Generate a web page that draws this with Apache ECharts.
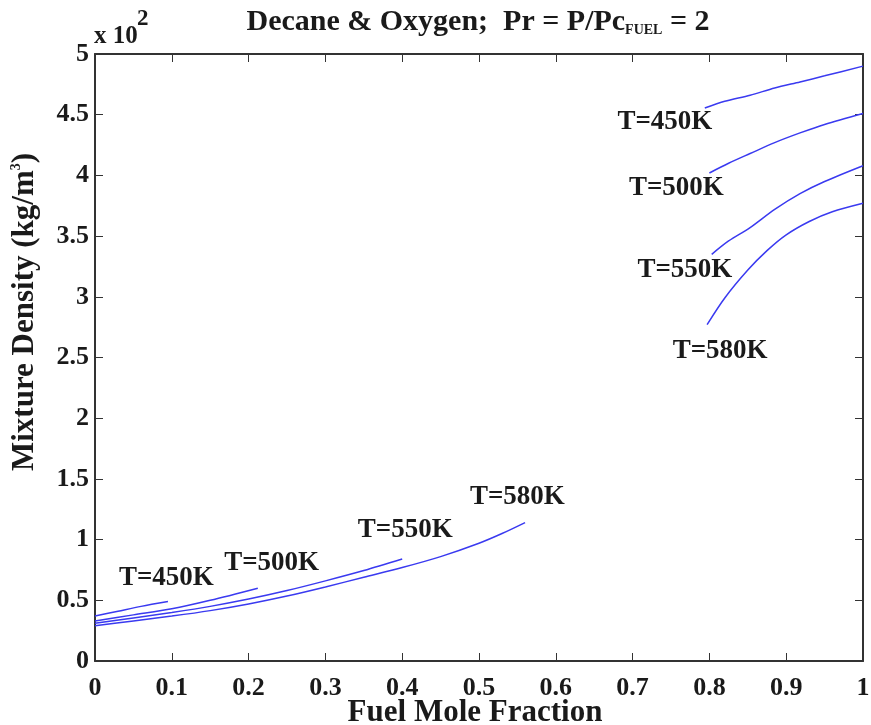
<!DOCTYPE html>
<html><head><meta charset="utf-8">
<script src="https://cdn.jsdelivr.net/npm/echarts@6/dist/echarts.min.js"></script>
<style>html,body{margin:0;padding:0;background:#fff}#c{width:871px;height:725px}</style>
</head><body><div id="c"></div>
<script>
// Fuel mole fraction vs mixture density (x10^2 kg/m^3)
var lowX450 = [0, 0.03, 0.06, 0.095];
var lowY450 = [0.37, 0.41, 0.45, 0.49];
var lowX500 = [0, 0.05, 0.1, 0.15, 0.212];
var lowY500 = [0.33, 0.38, 0.43, 0.50, 0.60];
var lowX550 = [0, 0.05, 0.1, 0.15, 0.2, 0.25, 0.3, 0.35, 0.40];
var lowY550 = [0.31, 0.355, 0.40, 0.45, 0.51, 0.58, 0.66, 0.745, 0.84];
var lowX580 = [0, 0.05, 0.1, 0.15, 0.2, 0.25, 0.3, 0.35, 0.4, 0.45, 0.5, 0.53, 0.56];
var lowY580 = [0.29, 0.33, 0.37, 0.415, 0.47, 0.535, 0.61, 0.69, 0.77, 0.86, 0.97, 1.05, 1.14];

var highX450 = [0.794, 0.82, 0.853, 0.885, 0.918, 0.95, 1.0];
var highY450 = [4.555, 4.61, 4.66, 4.72, 4.77, 4.82, 4.90];
var highX500 = [0.80, 0.825, 0.853, 0.885, 0.918, 0.95, 1.0];
var highY500 = [4.02, 4.10, 4.18, 4.27, 4.35, 4.42, 4.51];
var highX550 = [0.803, 0.825, 0.853, 0.885, 0.918, 0.95, 1.0];
var highY550 = [3.35, 3.46, 3.57, 3.72, 3.85, 3.95, 4.08];
var highX580 = [0.797, 0.82, 0.85, 0.875, 0.9, 0.93, 0.96, 1.0];
var highY580 = [2.77, 2.99, 3.22, 3.38, 3.51, 3.62, 3.70, 3.77];

var labelTexts = ['T=450K','T=500K','T=550K','T=580K','T=450K','T=500K','T=550K','T=580K'];
var labelX = [0.093, 0.23, 0.404, 0.55, 0.742, 0.757, 0.768, 0.814];
var labelY = [0.68, 0.81, 1.08, 1.35, 4.44, 3.90, 3.22, 2.55];

var xTicks = ['0','0.1','0.2','0.3','0.4','0.5','0.6','0.7','0.8','0.9','1'];
var yTicks = ['0','0.5','1','1.5','2','2.5','3','3.5','4','4.5','5'];

function pairs(xs, ys){ return xs.map(function(x,i){ return [x, ys[i]]; }); }
var font = '"Liberation Serif","DejaVu Serif",serif';
var ink = '#1a1a1a';
var lineColor = '#3a3af0';

var curves = [
  [lowX450, lowY450],[lowX500, lowY500],[lowX550, lowY550],[lowX580, lowY580],
  [highX450, highY450],[highX500, highY500],[highX550, highY550],[highX580, highY580]
];
var series = curves.map(function(c){
  return {type:'line', data:pairs(c[0], c[1]), showSymbol:false, smooth:0.3,
    lineStyle:{color:lineColor, width:1.5}, xAxisIndex:0, yAxisIndex:0, silent:true, animation:false};
});
series.push({
  type:'scatter', symbolSize:0, xAxisIndex:0, yAxisIndex:0, animation:false, silent:true,
  itemStyle:{opacity:1},
  data: labelX.map(function(x,i){ return {value:[x, labelY[i]], name: labelTexts[i]}; }),
  label:{show:true, position:'inside', formatter:function(p){return p.name;}, opacity:1,
    fontFamily:font, fontWeight:'bold', fontSize:27, color:ink}
});

var chart = echarts.init(document.getElementById('c'), null, {renderer:'canvas'});
var axisLineStyle = {color:'#333', width:2};
var tickStyle = {color:'#333', width:1};
chart.setOption({
  backgroundColor:'#fff',
  animation:false,
  title:{
    text:'Decane & Oxygen;  Pr = P/Pc{sub|FUEL} = 2',
    left:473, top:2, textAlign:'center',
    textStyle:{fontFamily:font, fontWeight:'bold', fontSize:30, color:ink,
      rich:{sub:{fontFamily:font, fontWeight:'bold', fontSize:14, color:ink, verticalAlign:'bottom', padding:[14,0,0,0]}}}
  },
  graphic:[
    {type:'text', left:94, top:24, style:{text:'x 10', fontFamily:font, fontWeight:'bold', fontSize:25, fill:ink}},
    {type:'text', left:137, top:8, style:{text:'2', fontFamily:font, fontWeight:'bold', fontSize:23, fill:ink}},
    {type:'text', x:25, y:312, rotation:Math.PI/2,
     style:{text:'Mixture Density (kg/m{sup|3})', align:'center', verticalAlign:'middle',
       fontFamily:font, fontWeight:'bold', fontSize:31, fill:ink,
       rich:{sup:{fontFamily:font, fontWeight:'bold', fontSize:14, fill:ink, verticalAlign:'top', padding:[0,0,14,0]}}}},
    {type:'text', x:475, y:713,
     style:{text:'Fuel Mole Fraction', align:'center', verticalAlign:'middle',
       fontFamily:font, fontWeight:'bold', fontSize:31, fill:ink}}
  ],
  grid:{left:95, right:8, top:54, bottom:64, show:false, outerBoundsMode:'none', containLabel:false},
  xAxis:[
    {type:'value', min:0, max:1, interval:0.1, position:'bottom',
     axisLine:{show:true, onZero:false, lineStyle:axisLineStyle},
     axisTick:{show:true, inside:true, length:8, lineStyle:tickStyle},
     axisLabel:{fontFamily:font, fontWeight:'bold', fontSize:26, color:ink, margin:14,
       formatter:function(v){ return xTicks[Math.round(v*10)]; }},
     splitLine:{show:false}},
    {type:'value', min:0, max:1, interval:0.1, position:'top',
     axisLine:{show:true, onZero:false, lineStyle:axisLineStyle},
     axisTick:{show:true, inside:true, length:8, lineStyle:tickStyle},
     axisLabel:{show:false}, splitLine:{show:false}}
  ],
  yAxis:[
    {type:'value', min:0, max:5, interval:0.5, position:'left',
     axisLine:{show:true, onZero:false, lineStyle:axisLineStyle},
     axisTick:{show:true, inside:true, length:8, lineStyle:tickStyle},
     axisLabel:{fontFamily:font, fontWeight:'bold', fontSize:26, color:ink, margin:6,
       formatter:function(v){ return yTicks[Math.round(v*2)]; }},
     splitLine:{show:false}},
    {type:'value', min:0, max:5, interval:0.5, position:'right',
     axisLine:{show:true, onZero:false, lineStyle:axisLineStyle},
     axisTick:{show:true, inside:true, length:8, lineStyle:tickStyle},
     axisLabel:{show:false}, splitLine:{show:false}}
  ],
  series:series
});
</script></body></html>
